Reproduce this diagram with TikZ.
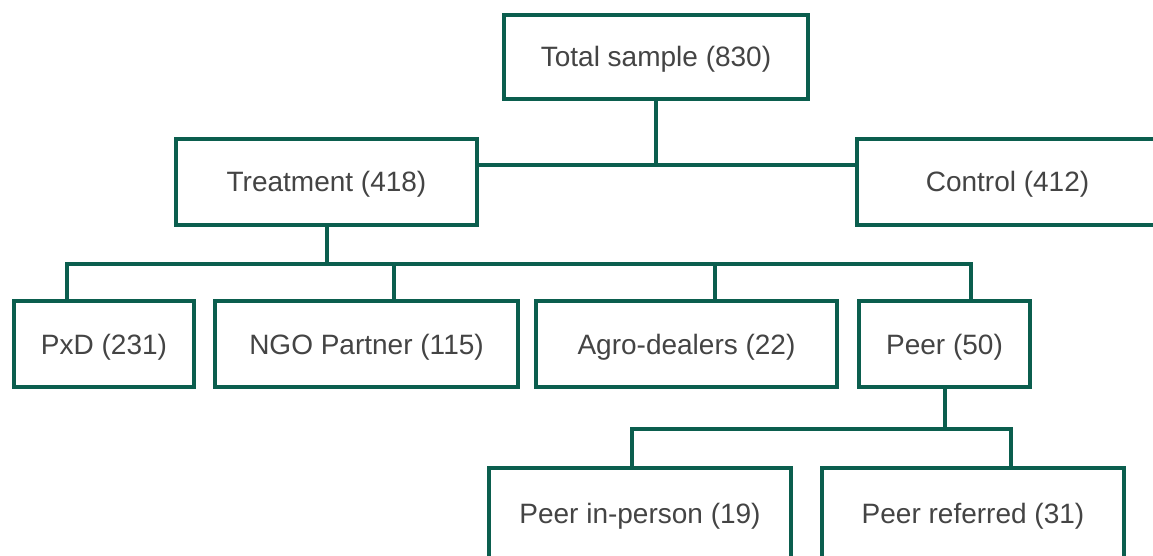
\documentclass[tikz,border=0pt]{standalone}
\usepackage{fontspec}
\setmainfont{Liberation Sans}
\definecolor{boxgreen}{HTML}{0B5E4E}
\definecolor{textgray}{HTML}{444444}
\begin{document}
\begin{tikzpicture}[x=1pt,y=-1pt,
  box/.style={draw=boxgreen, line width=4pt, fill=white, inner sep=0pt,
    text height=20pt, text depth=0pt,
    text=textgray, font=\fontsize{28}{34}\selectfont},
  conn/.style={draw=boxgreen, line width=4pt, line join=miter}]
\useasboundingbox (0,0) rectangle (1153,556);
\clip (0,0) rectangle (1153,556);
% level 0
\node[box, minimum width=304pt, minimum height=84pt] (total) at (656,57) {Total sample (830)};
% level 1
\node[box, minimum width=301pt, minimum height=86pt] (treat) at (326.5,182) {Treatment (418)};
\node[box, minimum width=301pt, minimum height=86pt] (control) at (1007.5,182) {Control (412)};
% level 2
\node[box, minimum width=180pt, minimum height=86pt] (pxd) at (104,344) {PxD (231)};
\node[box, minimum width=303pt, minimum height=86pt] (ngo) at (366.5,344) {NGO Partner (115)};
\node[box, minimum width=301pt, minimum height=86pt] (agro) at (686.5,344) {Agro-dealers (22)};
\node[box, minimum width=171pt, minimum height=86pt] (peer) at (944.5,344) {Peer (50)};
% level 3
\node[box, minimum width=302pt, minimum height=90pt] (inperson) at (640,513) {Peer in-person (19)};
\node[box, minimum width=302pt, minimum height=90pt] (referred) at (973,513) {Peer referred (31)};
% bus coordinates
\coordinate (bus1) at (656,165);
\coordinate (b2pxd) at (67,264);
\coordinate (b2ngo) at (394,264);
\coordinate (b2agro) at (715,264);
\coordinate (b2peer) at (971,264);
\coordinate (b3a) at (632,429);
\coordinate (b3b) at (1011,429);
% connectors
\draw[conn] (total.south) -- (total.south |- bus1);
\draw[conn] (treat.east |- bus1) -- (control.west |- bus1);
\draw[conn] (treat.south) -- (treat.south |- b2pxd);
\draw[conn] (b2pxd |- pxd.north) -- (b2pxd) -- (b2peer) -- (b2peer |- peer.north);
\draw[conn] (b2ngo) -- (b2ngo |- ngo.north);
\draw[conn] (b2agro) -- (b2agro |- agro.north);
\draw[conn] (peer.south) -- (peer.south |- b3a);
\draw[conn] (b3a |- inperson.north) -- (b3a) -- (b3b) -- (b3b |- referred.north);
\end{tikzpicture}
\end{document}
